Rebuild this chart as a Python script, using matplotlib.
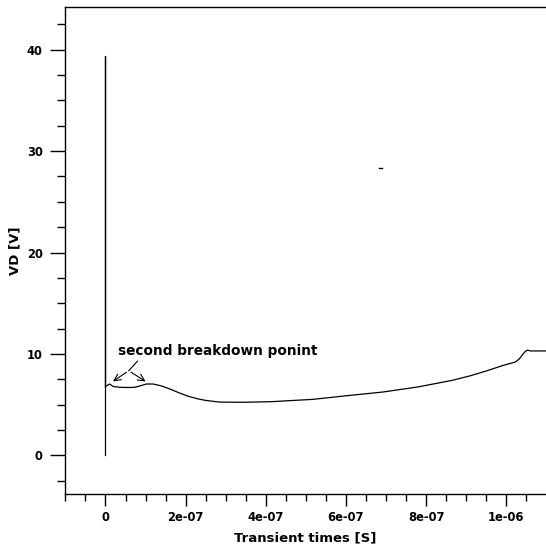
import matplotlib
matplotlib.use("Agg")
import matplotlib.pyplot as plt
from matplotlib.ticker import MultipleLocator, FixedLocator

plt.rcParams['font.family'] = ['DejaVu Sans']

# Spike at t=0
spike_t = [0.0, 0.0, 0.0]
spike_v = [0.0, 39.35, 6.8]

# Transient curve
time_s = [0.0, 1.04e-8, 1.9e-8, 3.5e-8, 4.9e-8, 6.5e-8, 7.55e-8, 9.0e-8, 1.02e-7, 1.19e-7,
          1.4e-7, 1.62e-7, 1.85e-7, 2.06e-7, 2.3e-7, 2.49e-7, 2.84e-7, 3.45e-7, 4.14e-7,
          5.18e-7, 6.05e-7, 6.92e-7, 7.79e-7, 8.65e-7, 9.1e-7, 9.52e-7, 9.9e-7, 1.022e-6,
          1.032e-6, 1.039e-6, 1.046e-6, 1.052e-6, 1.061e-6, 1.1e-6]
vd_v = [6.8, 7.04, 6.8, 6.72, 6.7, 6.7, 6.74, 6.9, 7.04, 7.04,
        6.85, 6.53, 6.15, 5.84, 5.58, 5.43, 5.26, 5.24, 5.3,
        5.53, 5.9, 6.25, 6.75, 7.4, 7.85, 8.35, 8.85, 9.2,
        9.5, 9.85, 10.2, 10.38, 10.3, 10.3]

# stray point
dot_t = [6.83e-7, 6.89e-7]
dot_v = [28.3, 28.3]

xticks = [0, 2e-7, 4e-7, 6e-7, 8e-7, 1e-6]
xticklabels = ['0', '2e-07', '4e-07', '6e-07', '8e-07', '1e-06']
yticks = [0, 10, 20, 30, 40]

fig = plt.figure(figsize=(5.46, 5.57), dpi=100)
W, H = 546, 557
left, right, top, bottom = 65, 546, 7, 494
ax = fig.add_axes([left / W, 1 - bottom / H, (right - left) / W, (bottom - top) / H])

ax.plot(spike_t, spike_v, color='black', lw=0.9)
ax.plot(time_s, vd_v, color='black', lw=0.9)
ax.plot(dot_t, dot_v, color='black', lw=1.0)

ax.set_xlim(-1.01e-7, 1.099e-6)
ax.set_ylim(-3.8, 44.2)

ax.xaxis.set_major_locator(FixedLocator(xticks))
ax.set_xticklabels(xticklabels)
ax.xaxis.set_minor_locator(MultipleLocator(5e-8))
ax.yaxis.set_major_locator(FixedLocator(yticks))
ax.yaxis.set_minor_locator(MultipleLocator(2.5))

ax.tick_params(axis='x', which='major', length=8.5, width=1.0, direction='out', pad=4, labelsize=8.3)
ax.tick_params(axis='x', which='minor', length=5, width=1.0, direction='out')
ax.tick_params(axis='y', which='major', length=11, width=1.0, direction='out', pad=5, labelsize=8.3)
ax.tick_params(axis='y', which='minor', length=6, width=1.0, direction='out')
for lab in ax.get_xticklabels() + ax.get_yticklabels():
    lab.set_fontweight('bold')

ax.spines['right'].set_visible(False)
for s in ['left', 'bottom', 'top']:
    ax.spines[s].set_linewidth(1.0)

ax.set_xlabel('Transient times [S]', fontsize=9.5, fontweight='bold', labelpad=5)
ax.set_ylabel('VD [V]', fontsize=9.5, fontweight='bold', labelpad=4)

ax.text(3.0e-8, 10.3, 'second breakdown ponint', fontsize=9.8, fontweight='bold',
        ha='left', va='center')
ax.plot([8e-8, 5.8e-8], [9.3, 8.35], color='black', lw=0.8)
ax.annotate('', xy=(1.3e-8, 7.15), xytext=(5.8e-8, 8.35),
            arrowprops=dict(arrowstyle='->', color='black', lw=0.8, mutation_scale=12))
ax.annotate('', xy=(1.06e-7, 7.15), xytext=(5.8e-8, 8.35),
            arrowprops=dict(arrowstyle='->', color='black', lw=0.8, mutation_scale=12))

fig.savefig('out.png', dpi=100)
